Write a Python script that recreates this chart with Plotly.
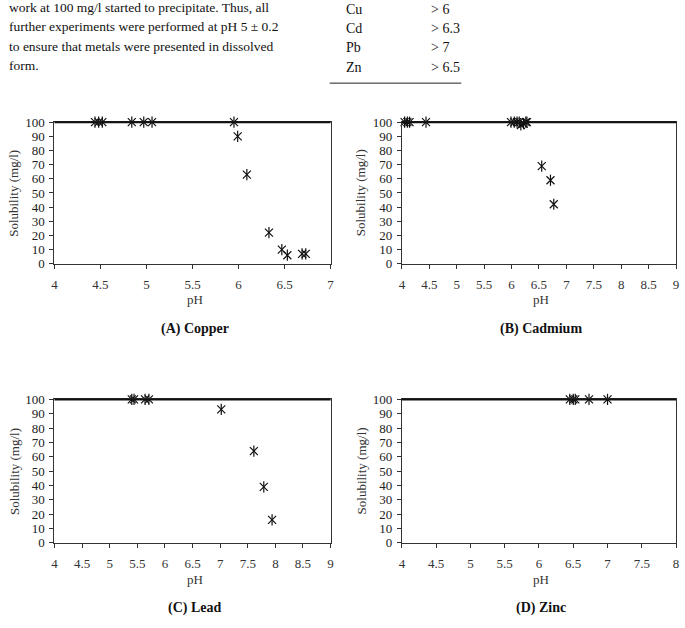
import plotly.graph_objects as go

W, H = 685, 628

# ---- data ----
cu_ph = [4.44, 4.48, 4.52, 4.84, 4.97, 5.06, 5.95, 5.99, 6.09, 6.33, 6.47, 6.53, 6.69, 6.73]
cu_sol = [100, 100, 100, 100, 100, 100, 100, 90, 63, 22, 10, 6, 7, 7]

cd_ph = [4.05, 4.1, 4.14, 4.44, 5.99, 6.05, 6.1, 6.14, 6.17, 6.22, 6.26, 6.28, 6.55, 6.71, 6.77]
cd_sol = [100, 100, 100, 100, 100, 100, 100, 100, 98, 99, 100, 100, 69, 59, 42]

pb_ph = [5.40, 5.44, 5.64, 5.71, 7.02, 7.61, 7.79, 7.94]
pb_sol = [100, 100, 100, 100, 93, 64, 39, 16]

zn_ph = [6.45, 6.5, 6.53, 6.73, 7.0]
zn_sol = [100, 100, 100, 100, 100]

x_ticks_a = [4, 4.5, 5, 5.5, 6, 6.5, 7]
x_ticks_bc = [4, 4.5, 5, 5.5, 6, 6.5, 7, 7.5, 8, 8.5, 9]
x_ticks_d = [4, 4.5, 5, 5.5, 6, 6.5, 7, 7.5, 8]
y_ticks = [0, 10, 20, 30, 40, 50, 60, 70, 80, 90, 100]

captions = ["(A) Copper", "(B) Cadmium", "(C) Lead", "(D) Zinc"]
y_title = "Solubility (mg/l)"
x_title = "pH"

text_lines = [
    "work at 100 mg/l started to precipitate. Thus, all",
    "further experiments were performed at pH 5 ± 0.2",
    "to ensure that metals were presented in dissolved",
    "form.",
]
table_metals = ["Cu", "Cd", "Pb", "Zn"]
table_ph = ["> 6", "> 6.3", "> 7", "> 6.5"]

SERIF = "Liberation Serif"

# panel pixel boxes: (left, right, top, bottom)
panels = [
    (52, 331, 118, 263),
    (403, 680, 118, 263),
    (52, 331, 402, 549),
    (403, 680, 402, 549),
]
datasets = [(cu_ph, cu_sol), (cd_ph, cd_sol), (pb_ph, pb_sol), (zn_ph, zn_sol)]
xranges = [(4, 7), (4, 9), (4, 9), (4, 8)]
xticks = [x_ticks_a, x_ticks_bc, x_ticks_bc, x_ticks_d]

fig = go.Figure()
layout = dict(
    width=W, height=H, margin=dict(l=0, r=0, t=0, b=0),
    paper_bgcolor="white", plot_bgcolor="white", showlegend=False,
    font=dict(family=SERIF, color="#222"),
)
annotations = []
shapes = []


def ann(text, px, py, size, xanchor="center", angle=0, color="#222"):
    return dict(text=text, x=px / W, y=1 - py / H, xref="paper", yref="paper",
                xanchor=xanchor, yanchor="middle", showarrow=False, textangle=angle,
                font=dict(family=SERIF, size=size, color=color))


for i, ((l, r, t, b), (xs, ys), xr, xt) in enumerate(zip(panels, datasets, xranges, xticks)):
    n = "" if i == 0 else str(i + 1)
    xa, ya = "x" + n, "y" + n
    for sym in ["x-thin-open", "line-ns-open"]:
        fig.add_trace(go.Scatter(
            x=xs, y=ys, mode="markers", xaxis=xa, yaxis=ya,
            marker=dict(symbol=sym, size=8, color="#111", line=dict(color="#111", width=1.2)),
            cliponaxis=False, hoverinfo="skip",
        ))
    layout["xaxis" + n] = dict(
        domain=[l / W, r / W], anchor=ya, range=list(xr),
        tickvals=xt, ticktext=[f"{v:g}" for v in xt],
        showline=True, linecolor="#333", linewidth=1, mirror=True,
        ticks="outside", ticklen=4, tickcolor="#333",
        showgrid=False, zeroline=False,
        tickfont=dict(family=SERIF, size=13, color="#333"),
        ticklabelstandoff=5,
    )
    layout["yaxis" + n] = dict(
        domain=[1 - b / H, 1 - t / H], anchor=xa, range=[0, 100],
        tickvals=y_ticks, showline=True, linecolor="#333", linewidth=1, mirror=True,
        ticks="outside", ticklen=4, tickcolor="#333",
        showgrid=False, zeroline=False,
        tickfont=dict(family=SERIF, size=13, color="#222"),
        ticklabelstandoff=2,
    )
    # heavy top border line
    shapes.append(dict(type="line", xref=xa + " domain", yref=ya + " domain",
                       x0=0, x1=1, y0=1, y1=1, line=dict(color="#111", width=2)))
    # axis titles
    annotations.append(ann(x_title, (l + r) / 2 + 2, b + 37, 13, color="#333"))
    annotations.append(ann(y_title, l - 41, (t + b) / 2, 13, angle=-90, color="#333"))
    annotations.append(ann("<b>" + captions[i] + "</b>", (l + r) / 2 + 2, b + 67, 14, color="#111"))

# top body text
for k, line in enumerate(text_lines):
    annotations.append(ann(line, 4, 0 + 20 * k, 13.5, xanchor="left", color="#111"))
for k, (m, p) in enumerate(zip(table_metals, table_ph)):
    yy = 3 + 19.5 * k
    annotations.append(ann(m, 345, yy, 14, xanchor="left", color="#111"))
    annotations.append(ann(p, 430, yy, 14, xanchor="left", color="#111"))
shapes.append(dict(type="line", xref="paper", yref="paper", x0=330 / W, x1=463 / W,
                   y0=1 - 78 / H, y1=1 - 78 / H, line=dict(color="#222", width=1)))

layout["annotations"] = annotations
layout["shapes"] = shapes
fig.update_layout(**layout)
fig.write_html("out.html")
